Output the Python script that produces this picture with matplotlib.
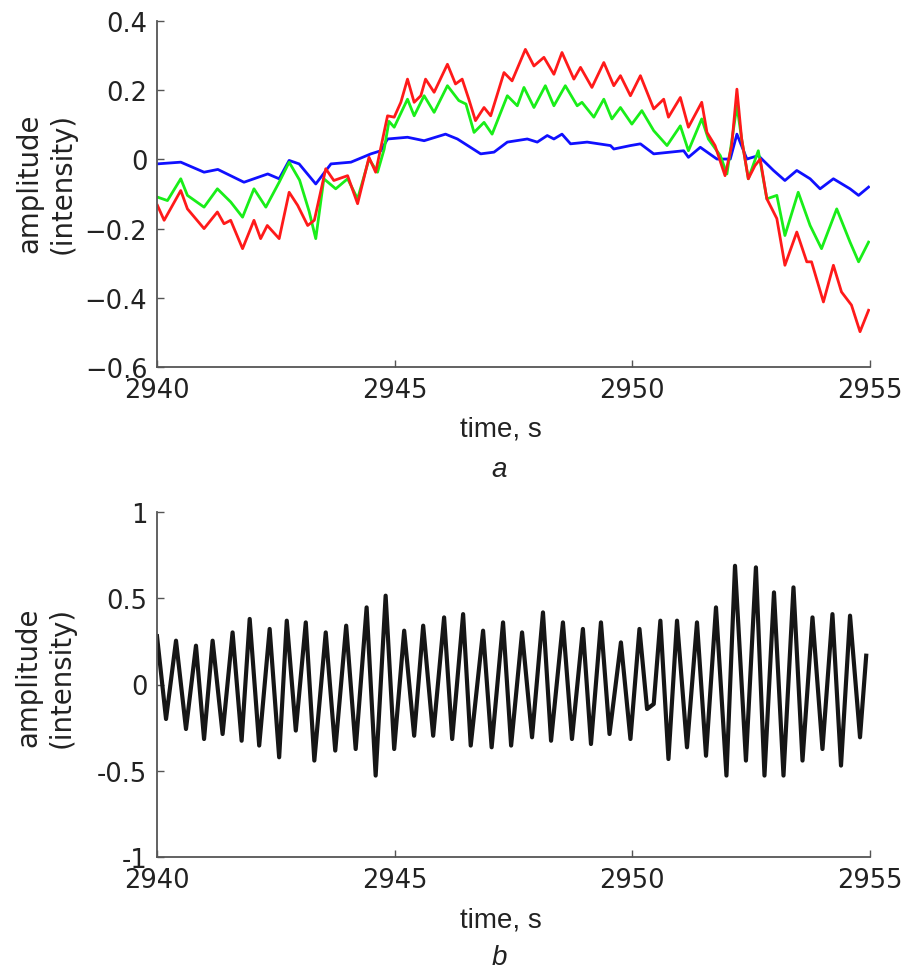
import matplotlib
matplotlib.use("Agg")
import matplotlib.pyplot as plt

plt.rcParams["font.family"] = ["DejaVu Sans"]

# panel a: three intensity traces
t_blue = [2940.00, 2940.50, 2940.99, 2941.28, 2941.83, 2942.33, 2942.57, 2942.78, 2942.99,
          2943.34, 2943.66, 2944.08, 2944.50, 2944.71, 2944.85, 2945.27, 2945.62, 2946.07,
          2946.32, 2946.81, 2947.09, 2947.37, 2947.79, 2948.00, 2948.21, 2948.35, 2948.52,
          2948.70, 2949.05, 2949.54, 2949.61, 2949.96, 2950.17, 2950.45, 2950.80, 2951.08,
          2951.18, 2951.43, 2951.78, 2952.06, 2952.20, 2952.41, 2952.65, 2952.97, 2953.21,
          2953.46, 2953.74, 2953.95, 2954.23, 2954.58, 2954.76, 2954.97]
amp_blue = [-0.013, -0.008, -0.037, -0.029, -0.066, -0.042, -0.056, -0.003, -0.013,
            -0.071, -0.013, -0.008, 0.016, 0.025, 0.059, 0.064, 0.054, 0.073,
            0.059, 0.016, 0.021, 0.050, 0.059, 0.050, 0.069, 0.059, 0.073,
            0.045, 0.050, 0.040, 0.030, 0.040, 0.045, 0.016, 0.021, 0.025,
            0.006, 0.035, 0.001, 0.001, 0.073, 0.001, 0.011, -0.032, -0.061,
            -0.032, -0.056, -0.085, -0.056, -0.085, -0.104, -0.080]

t_green = [2940.01, 2940.22, 2940.50, 2940.64, 2940.99, 2941.27, 2941.55, 2941.80, 2942.04,
           2942.29, 2942.57, 2942.78, 2943.00, 2943.20, 2943.34, 2943.51, 2943.76, 2944.01,
           2944.22, 2944.46, 2944.64, 2944.78, 2944.88, 2944.99, 2945.27, 2945.41, 2945.62,
           2945.83, 2946.11, 2946.35, 2946.50, 2946.67, 2946.88, 2947.05, 2947.37, 2947.58,
           2947.72, 2947.93, 2948.17, 2948.35, 2948.59, 2948.84, 2948.94, 2949.19, 2949.40,
           2949.57, 2949.75, 2949.99, 2950.20, 2950.45, 2950.73, 2951.01, 2951.18, 2951.46,
           2951.60, 2951.85, 2951.99, 2952.20, 2952.30, 2952.44, 2952.65, 2952.83, 2953.04,
           2953.21, 2953.49, 2953.74, 2953.98, 2954.30, 2954.58, 2954.76, 2954.97]
amp_green = [-0.109, -0.119, -0.056, -0.104, -0.138, -0.085, -0.123, -0.167, -0.085,
             -0.138, -0.066, -0.008, -0.060, -0.150, -0.229, -0.056, -0.085, -0.056,
             -0.114, 0.001, -0.037, 0.030, 0.110, 0.093, 0.174, 0.126, 0.184,
             0.136, 0.213, 0.170, 0.160, 0.078, 0.107, 0.073, 0.184, 0.155,
             0.208, 0.150, 0.213, 0.155, 0.213, 0.155, 0.165, 0.122, 0.174,
             0.117, 0.150, 0.102, 0.141, 0.083, 0.040, 0.097, 0.025, 0.117,
             0.059, 0.011, -0.042, 0.155, 0.059, -0.056, 0.025, -0.114, -0.104,
             -0.220, -0.095, -0.191, -0.258, -0.143, -0.239, -0.296, -0.239]

t_red = [2940.01, 2940.15, 2940.50, 2940.64, 2940.99, 2941.27, 2941.41, 2941.55, 2941.80,
         2942.04, 2942.18, 2942.32, 2942.57, 2942.78, 2942.96, 2943.17, 2943.31, 2943.55,
         2943.72, 2944.01, 2944.22, 2944.46, 2944.60, 2944.85, 2944.99, 2945.13, 2945.27,
         2945.41, 2945.55, 2945.65, 2945.83, 2946.11, 2946.28, 2946.42, 2946.56, 2946.70,
         2946.88, 2947.02, 2947.30, 2947.47, 2947.75, 2947.93, 2948.14, 2948.35, 2948.52,
         2948.77, 2948.91, 2949.15, 2949.40, 2949.61, 2949.75, 2949.96, 2950.17, 2950.45,
         2950.66, 2950.76, 2951.01, 2951.18, 2951.46, 2951.57, 2951.74, 2951.95, 2952.09,
         2952.20, 2952.30, 2952.44, 2952.58, 2952.69, 2952.83, 2953.04, 2953.21, 2953.46,
         2953.67, 2953.77, 2954.02, 2954.23, 2954.40, 2954.61, 2954.79, 2954.97]
amp_red = [-0.133, -0.176, -0.090, -0.143, -0.200, -0.152, -0.186, -0.176, -0.258,
           -0.176, -0.229, -0.191, -0.229, -0.095, -0.133, -0.191, -0.176, -0.027,
           -0.061, -0.047, -0.128, 0.006, -0.037, 0.126, 0.122, 0.165, 0.232,
           0.165, 0.184, 0.232, 0.194, 0.275, 0.218, 0.232, 0.174, 0.112,
           0.150, 0.126, 0.251, 0.227, 0.318, 0.270, 0.295, 0.246, 0.309,
           0.232, 0.266, 0.208, 0.280, 0.213, 0.242, 0.184, 0.242, 0.146,
           0.174, 0.122, 0.179, 0.093, 0.165, 0.078, 0.040, -0.047, 0.040,
           0.203, 0.059, -0.056, -0.018, 0.001, -0.114, -0.171, -0.306, -0.210,
           -0.296, -0.296, -0.412, -0.306, -0.383, -0.421, -0.498, -0.436]

# panel b: filtered oscillation (turning points)
t_osc = [2940.00, 2940.19, 2940.40, 2940.61, 2940.82, 2940.99, 2941.17, 2941.38, 2941.59,
         2941.78, 2941.95, 2942.15, 2942.37, 2942.57, 2942.73, 2942.92, 2943.13, 2943.31,
         2943.55, 2943.75, 2943.98, 2944.18, 2944.41, 2944.60, 2944.81, 2944.99, 2945.20,
         2945.41, 2945.60, 2945.81, 2946.04, 2946.21, 2946.44, 2946.60, 2946.86, 2947.04,
         2947.28, 2947.45, 2947.68, 2947.89, 2948.12, 2948.29, 2948.54, 2948.73, 2948.96,
         2949.13, 2949.34, 2949.52, 2949.76, 2949.96, 2950.15, 2950.31, 2950.45, 2950.59,
         2950.76, 2950.94, 2951.15, 2951.36, 2951.55, 2951.76, 2951.98, 2952.16, 2952.39,
         2952.60, 2952.78, 2952.98, 2953.18, 2953.39, 2953.58, 2953.79, 2954.00, 2954.21,
         2954.39, 2954.58, 2954.79, 2954.92]
amp_osc = [0.280, -0.200, 0.254, -0.258, 0.225, -0.316, 0.254, -0.287, 0.302,
           -0.326, 0.380, -0.354, 0.322, -0.422, 0.370, -0.267, 0.360, -0.441,
           0.302, -0.383, 0.341, -0.374, 0.447, -0.528, 0.515, -0.374, 0.312,
           -0.297, 0.341, -0.297, 0.389, -0.316, 0.408, -0.354, 0.312, -0.364,
           0.360, -0.354, 0.302, -0.306, 0.418, -0.326, 0.360, -0.316, 0.322,
           -0.345, 0.360, -0.287, 0.244, -0.316, 0.322, -0.142, -0.113, 0.370,
           -0.432, 0.370, -0.364, 0.360, -0.413, 0.447, -0.528, 0.688, -0.441,
           0.679, -0.528, 0.534, -0.528, 0.563, -0.441, 0.389, -0.374, 0.408,
           -0.470, 0.399, -0.306, 0.167]

x_ticks = [2940, 2945, 2950, 2955]
yticks_a = [-0.6, -0.4, -0.2, 0, 0.2, 0.4]
yticklabels_a = ["\u22120.6", "\u22120.4", "\u22120.2", "0", "0.2", "0.4"]
yticks_b = [-1, -0.5, 0, 0.5, 1]
yticklabels_b = ["-1", "-0.5", "0", "0.5", "1"]

W, H = 906, 970
fig = plt.figure(figsize=(W / 100, H / 100), dpi=100)
ax_a = fig.add_axes([157 / W, 1 - 368 / H, 713 / W, 346 / H])
ax_b = fig.add_axes([157 / W, 1 - 858 / H, 713 / W, 345 / H])


def style(ax):
    for side in ("top", "right"):
        ax.spines[side].set_visible(False)
    for side in ("left", "bottom"):
        ax.spines[side].set_color("#555555")
        ax.spines[side].set_linewidth(1.3)
    ax.tick_params(direction="in", length=5, width=1, color="#555555",
                   labelcolor="#222222", labelsize=18.5, pad=7)
    ax.set_xlim(2940, 2955)
    ax.set_xticks(x_ticks)
    ax.set_xticklabels([str(v) for v in x_ticks])


ax_a.plot(t_blue, amp_blue, color="#1010ff", lw=2.0)
ax_a.plot(t_green, amp_green, color="#19ee19", lw=2.0)
ax_a.plot(t_red, amp_red, color="#ff1a1a", lw=2.0)
style(ax_a)
ax_a.set_ylim(-0.6, 0.4)
ax_a.set_yticks(yticks_a)
ax_a.set_yticklabels(yticklabels_a)

ax_b.plot(t_osc, amp_osc, color="#161616", lw=3.0, solid_joinstyle="round")
style(ax_b)
ax_b.set_ylim(-1, 1)
ax_b.set_yticks(yticks_b)
ax_b.set_yticklabels(yticklabels_b)

label_kw = dict(rotation=90, ha="center", va="center", multialignment="center",
                fontsize=19.8, color="#222222", linespacing=1.2)
fig.text(46 / W, 1 - 183 / H, "amplitude\n(intensity)", **label_kw)
fig.text(45 / W, 1 - 677 / H, "amplitude\n(intensity)", **label_kw)

xl_kw = dict(ha="center", va="baseline", fontsize=20, color="#222222",
             family="Liberation Sans")
fig.text(501 / W, 1 - 437 / H, "time, s", **xl_kw)
fig.text(499 / W, 1 - 477 / H, "a", style="italic", **xl_kw)
fig.text(501 / W, 1 - 928 / H, "time, s", **xl_kw)
fig.text(499 / W, 1 - 965 / H, "b", style="italic", **xl_kw)

fig.savefig("out.png", dpi=100)
